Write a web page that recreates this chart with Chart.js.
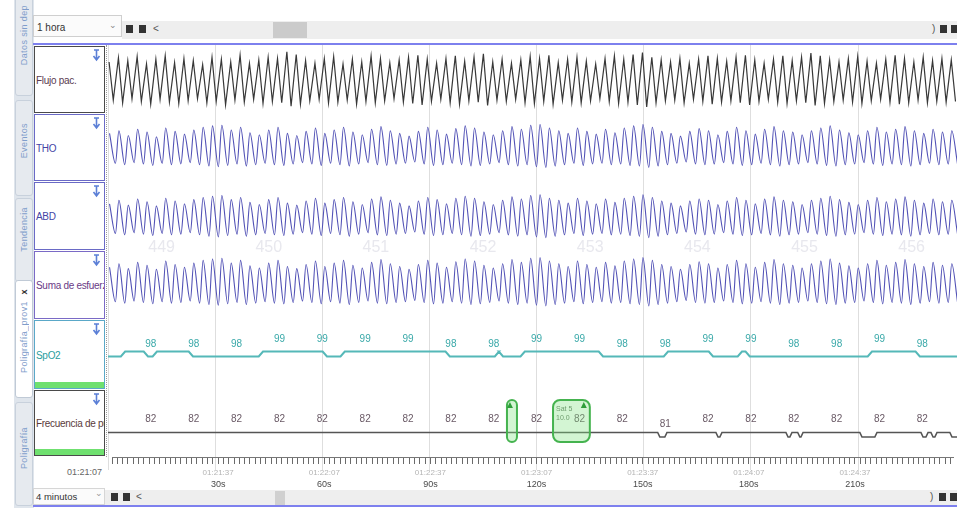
<!DOCTYPE html>
<html><head><meta charset="utf-8">
<script src="https://cdn.jsdelivr.net/npm/chart.js@4.4.1/dist/chart.umd.min.js"></script>
<style>
html,body{margin:0;padding:0;width:957px;height:508px;overflow:hidden;background:#fff;font-family:"Liberation Sans",Arial,sans-serif;}
.a{position:absolute;box-sizing:border-box;}
canvas{position:absolute;}
.tab{position:absolute;left:15px;width:18px;box-sizing:border-box;border:1px solid #c8d1dc;border-radius:3px;background:#e6eaef;}
.tab span{position:absolute;left:3px;writing-mode:vertical-rl;transform:rotate(180deg);font-size:9px;color:#7f9dcb;letter-spacing:0.4px;white-space:nowrap;}
.box{position:absolute;left:34px;width:71px;box-sizing:border-box;border:1.5px solid #6a6ac6;background:#fff;overflow:hidden;}
.box .t{position:absolute;left:1px;top:50%;transform:translateY(-50%);font-size:10px;white-space:nowrap;letter-spacing:-0.3px;}
.box svg{position:absolute;right:3px;top:2px;}
.box .g{position:absolute;left:0;right:0;bottom:0;height:6px;background:#6fe06f;}
.btn{position:absolute;width:7px;height:8px;background:#333;}
.sm{position:absolute;font-size:10px;color:#555;}
</style></head><body>

<!-- left vertical tabs -->
<div class="a" style="left:14px;top:0;width:20px;height:508px;background:#dfe5ec;"></div>
<div class="tab" style="top:-4px;height:100px;"><span style="top:8px;">Datos sin dep</span></div>
<div class="tab" style="top:100px;height:96px;"><span style="top:22px;">Eventos</span></div>
<div class="tab" style="top:198px;height:84px;"><span style="top:8px;">Tendencia</span></div>
<div class="tab" style="top:280px;height:118px;background:#fff;border-color:#c0cad6;"><span style="top:8px;color:#333;font-weight:bold;font-size:9px;">x</span><span style="top:20px;">Poligrafía_prov1</span></div>
<div class="tab" style="top:402px;height:104px;"><span style="top:24px;">Poligrafía</span></div>

<!-- top bar -->
<div class="a" style="left:122px;top:21px;width:835px;height:18px;background:#eeeeee;"></div>
<div class="a" style="left:33px;top:15px;width:89px;height:22px;border:1px solid #cfcfcf;background:#fbfbfb;"></div>
<div class="sm" style="left:37px;top:22px;color:#333;">1 hora</div>
<div class="sm" style="left:109px;top:20px;color:#888;font-size:9px;">⌄</div>
<div class="btn" style="left:126px;top:25px;"></div>
<div class="btn" style="left:139px;top:25px;"></div>
<div class="sm" style="left:153px;top:23px;">&lt;</div>
<div class="a" style="left:273px;top:22px;width:34px;height:16px;background:#cbcbcb;"></div>
<div class="sm" style="left:932px;top:23px;">)</div>
<div class="btn" style="left:940px;top:25px;"></div>
<div class="btn" style="left:951px;top:25px;"></div>
<div class="a" style="left:33px;top:43px;width:924px;height:2px;background:#7d80ee;"></div>

<!-- channel label boxes -->
<div class="box" style="top:46px;height:67px;border-color:#4a4a4a;"><div class="t" style="color:#5a3b50;">Flujo pac.</div><svg width="9" height="13"><path d="M2 1h5M4.5 1v9M1.5 7l3 4 3-4" stroke="#5b7fd6" stroke-width="1.6" fill="none"/></svg></div>
<div class="box" style="top:114px;height:67px;"><div class="t" style="color:#4545a5;">THO</div><svg width="9" height="13"><path d="M2 1h5M4.5 1v9M1.5 7l3 4 3-4" stroke="#5b7fd6" stroke-width="1.6" fill="none"/></svg></div>
<div class="box" style="top:182px;height:68px;"><div class="t" style="color:#4545a5;">ABD</div><svg width="9" height="13"><path d="M2 1h5M4.5 1v9M1.5 7l3 4 3-4" stroke="#5b7fd6" stroke-width="1.6" fill="none"/></svg></div>
<div class="box" style="top:251px;height:68px;border-color:#7a6ac6;"><div class="t" style="color:#6a3a86;">Suma de esfuerzos</div><svg width="9" height="13"><path d="M2 1h5M4.5 1v9M1.5 7l3 4 3-4" stroke="#5b7fd6" stroke-width="1.6" fill="none"/></svg></div>
<div class="box" style="top:320px;height:69px;border-color:#5aa8c8;"><div class="t" style="color:#2a9d9d;">SpO2</div><svg width="9" height="13"><path d="M2 1h5M4.5 1v9M1.5 7l3 4 3-4" stroke="#5b7fd6" stroke-width="1.6" fill="none"/></svg><div class="g"></div></div>
<div class="box" style="top:390px;height:66px;border-color:#4a4a4a;"><div class="t" style="color:#5b3b3b;">Frecuencia de pulso</div><svg width="9" height="13"><path d="M2 1h5M4.5 1v9M1.5 7l3 4 3-4" stroke="#5b7fd6" stroke-width="1.6" fill="none"/></svg><div class="g"></div></div>
<div class="a" style="left:106px;top:45px;width:0;height:412px;border-left:1px dotted #9a9a9a;"></div>
<div class="sm" style="left:60px;top:467px;width:42px;text-align:right;font-size:9px;color:#666;">01:21:07</div>

<!-- bottom bar -->
<div class="a" style="left:105px;top:490px;width:852px;height:15px;background:#eeeeee;"></div>
<div class="a" style="left:33px;top:488px;width:72px;height:17px;border:1px solid #d6d6d6;background:#fbfbfb;"></div>
<div class="sm" style="left:36px;top:491px;color:#333;font-size:9.5px;">4 minutos</div>
<div class="sm" style="left:95px;top:488px;color:#999;font-size:9px;">⌄</div>
<div class="btn" style="left:111px;top:493px;"></div>
<div class="btn" style="left:123px;top:493px;"></div>
<div class="sm" style="left:136px;top:491px;">&lt;</div>
<div class="a" style="left:275px;top:491px;width:10px;height:14px;background:#d0d0d0;"></div>
<div class="sm" style="left:930px;top:491px;">)</div>
<div class="btn" style="left:939px;top:493px;"></div>
<div class="btn" style="left:950px;top:493px;"></div>
<div class="a" style="left:33px;top:505px;width:924px;height:2px;background:#7d80ee;"></div>

<canvas id="cGrid" width="849" height="425" style="left:108px;top:45px;"></canvas>
<canvas id="cFlujo" width="849" height="68" style="left:108px;top:45px;"></canvas>
<canvas id="cTho" width="849" height="68" style="left:108px;top:113px;"></canvas>
<canvas id="cAbd" width="849" height="69" style="left:108px;top:181px;"></canvas>
<canvas id="cSuma" width="849" height="69" style="left:108px;top:250px;"></canvas>
<canvas id="cSpo2" width="849" height="71" style="left:108px;top:319px;"></canvas>
<canvas id="cFc" width="849" height="65" style="left:108px;top:390px;"></canvas>
<canvas id="cTime" width="849" height="35" style="left:108px;top:455px;"></canvas>

<script>
// ---------------- data ----------------
const XMAX = 237.7;            // visible seconds
const breathPeriod = 2.62;     // s per breath cycle
const breathStart = 0.3;

const fluPeaks = [50,62,54,66,44,58,68,48,60,54, 42,64,58,50,70,46,56,64,60,80, 72,54,46,60,66,44,58,50,68,60,
  48,56,64,70,58,46,60,68,52,64, 74,50,58,46,56,66,60,70,48,58, 64,52,44,60,68,58,72,78,64,56,
  50,60,46,58,68,60,52,64,70,56, 46,58,68,54,64,76,68,56,50,60, 66,52,46,58,70,60,50,64,54,60,56];
const fluTroughs = [-62,-70,-58,-66,-74,-60,-68,-72,-64,-58, -70,-66,-76,-62,-68,-60,-72,-66,-70,-80, -74,-64,-60,-70,-68,-62,-74,-66,-70,-64,
  -58,-68,-72,-76,-66,-60,-70,-74,-64,-68, -78,-62,-66,-60,-70,-72,-66,-74,-62,-68, -70,-64,-58,-66,-72,-68,-76,-82,-70,-64,
  -62,-70,-60,-66,-74,-68,-64,-70,-76,-66, -60,-68,-72,-64,-70,-78,-72,-66,-62,-68, -72,-64,-60,-68,-74,-70,-62,-70,-66,-68,-66];

const thoPeaks = [40,48,34,52,44,30,56,46,38,50, 58,62,64,50,58,42,36,50,58,40, 34,46,56,40,50,58,44,36,52,60,
  48,40,32,46,58,50,38,54,62,56, 44,36,48,60,52,64,66,56,48,40, 56,46,38,52,42,56,62,66,58,46,
  40,32,46,54,48,36,46,58,48,38, 52,60,48,44,36,48,56,62,50,42, 36,48,58,44,52,60,48,40,52,44,48];
const thoTroughs = [-48,-52,-46,-50,-54,-48,-52,-50,-46,-52, -56,-58,-54,-50,-56,-52,-48,-52,-54,-50, -46,-50,-54,-48,-52,-56,-50,-46,-52,-54,
  -50,-48,-44,-50,-54,-52,-48,-52,-56,-54, -50,-46,-52,-56,-52,-58,-60,-56,-52,-48, -54,-50,-48,-52,-50,-54,-56,-60,-56,-52,
  -48,-44,-50,-52,-50,-46,-50,-54,-52,-48, -52,-56,-52,-50,-46,-50,-54,-56,-52,-50, -46,-50,-54,-50,-52,-56,-52,-48,-52,-50,-52];

const abdPeaks = [34,44,30,48,40,28,50,42,34,46, 52,56,58,46,52,38,32,46,52,36, 30,42,50,36,46,52,40,32,48,54,
  44,36,28,42,52,46,34,50,56,50, 40,32,44,54,48,58,60,50,44,36, 50,42,34,48,38,50,56,60,52,42,
  36,28,42,48,44,32,42,52,44,34, 48,54,44,40,32,44,50,56,46,38, 32,44,52,40,48,54,44,36,48,40,44];
const abdTroughs = [-52,-56,-50,-54,-58,-52,-56,-54,-50,-56, -60,-62,-58,-54,-60,-56,-52,-56,-58,-54, -50,-54,-58,-52,-56,-60,-54,-50,-56,-58,
  -54,-52,-48,-54,-58,-56,-52,-56,-60,-58, -54,-50,-56,-60,-56,-62,-64,-60,-56,-52, -58,-54,-52,-56,-54,-58,-60,-64,-60,-56,
  -52,-48,-54,-56,-54,-50,-54,-58,-56,-52, -56,-60,-56,-54,-50,-54,-58,-60,-56,-54, -50,-54,-58,-54,-56,-60,-56,-52,-56,-54,-56];

const sumPeaks = [50,60,46,64,56,44,68,58,50,62, 70,74,76,62,70,54,48,62,70,52, 46,58,68,52,62,70,56,48,64,72,
  60,52,44,58,70,62,50,66,74,68, 56,48,60,72,64,76,78,68,60,52, 68,58,50,64,54,68,74,78,70,58,
  52,44,58,66,60,48,58,70,60,50, 64,72,60,56,48,60,68,74,62,54, 48,60,70,56,64,72,60,52,64,56,60];
const sumTroughs = [-50,-54,-48,-52,-56,-50,-54,-52,-48,-54, -58,-60,-56,-52,-58,-54,-50,-54,-56,-52, -48,-52,-56,-50,-54,-58,-52,-48,-54,-56,
  -52,-50,-46,-52,-56,-54,-50,-54,-58,-56, -52,-48,-54,-58,-54,-60,-62,-58,-54,-50, -56,-52,-50,-54,-52,-56,-58,-62,-58,-54,
  -50,-46,-52,-54,-52,-48,-52,-56,-54,-50, -54,-58,-54,-52,-48,-52,-56,-58,-54,-52, -48,-52,-56,-52,-54,-58,-54,-50,-54,-52,-54];

// SpO2 (%) change points
const spo2Times  = [0, 4.8, 11.2, 13.7, 23.8, 43.4, 61.3, 66.3, 95.7, 109.5, 110.6, 116.7, 138.6, 156.8, 169.4, 177.5, 179.7, 213.9, 227.3];
const spo2Values = [98, 99, 98, 99, 98, 99, 98, 99, 98, 99, 98, 99, 98, 99, 98, 99, 98, 99, 98];
const labelTimes = [12, 24, 36, 48, 60, 72, 84, 96, 108, 120, 132, 144, 156, 168, 180, 192, 204, 216, 228];
const spo2Labels = [98, 98, 98, 99, 99, 99, 99, 98, 98, 99, 99, 98, 98, 99, 99, 98, 98, 99, 98];

// pulse rate (lpm) change points
const fcTimes  = [0, 154.5, 156.5, 170.8, 171.9, 190.4, 191.5, 193.7, 194.6, 211.1, 215.3, 228.2, 229.6, 231.0, 232.1, 236.3];
const fcValues = [82, 81, 82, 81, 82, 81, 82, 81, 82, 81, 82, 81, 82, 81, 82, 81];
const fcLabels = [82, 82, 82, 82, 82, 82, 82, 82, 82, 82, 82, 82, 81, 82, 82, 82, 82, 82, 82];

// scored events
const eventStart = [111.7, 124.6];
const eventEnd   = [114.5, 134.9];
const eventText  = [[], ['Sat 5', '10.0']];

// axis labels
const gridStep = 30;
const clockLabels = ['01:21:37', '01:22:07', '01:22:37', '01:23:07', '01:23:37', '01:24:07', '01:24:37'];
const secLabels   = ['30s', '60s', '90s', '120s', '150s', '180s', '210s'];
const epochNumbers = [449, 450, 451, 452, 453, 454, 455, 456];

// ---------------- helpers ----------------
function wave(peaks, troughs, phP, phT) {
  const pts = [];
  const n = Math.min(peaks.length, troughs.length);
  for (let i = 0; i < n; i++) {
    const t = breathStart + i * breathPeriod;
    pts.push({x: t + phP * breathPeriod, y: peaks[i]});
    pts.push({x: t + phT * breathPeriod, y: troughs[i]});
  }
  return pts;
}
function steps(times, values, ramp) {
  const pts = [];
  for (let i = 0; i < times.length; i++) {
    if (i > 0) pts.push({x: times[i] - ramp, y: values[i - 1]});
    pts.push({x: times[i], y: values[i]});
  }
  pts.push({x: XMAX, y: values[values.length - 1]});
  return pts;
}
function opts(yMin, yMax) {
  return {
    responsive: false, animation: false, events: [],
    layout: {padding: 0, autoPadding: false},
    plugins: {legend: {display: false}, tooltip: {enabled: false}},
    scales: {
      x: {type: 'linear', min: 0, max: XMAX, display: false},
      y: {type: 'linear', min: yMin, max: yMax, display: false}
    }
  };
}
function lineChart(id, data, color, width, yMin, yMax, extra, plugins) {
  return new Chart(document.getElementById(id), {
    type: 'line',
    data: {datasets: [Object.assign({data, borderColor: color, borderWidth: width, pointRadius: 0, fill: false, tension: 0}, extra || {})]},
    options: opts(yMin, yMax),
    plugins: plugins || []
  });
}
function valueLabels(times, values, color, lift) {
  return {
    id: 'vl',
    afterDatasetsDraw(chart) {
      const {ctx, scales: {x, y}} = chart;
      ctx.save();
      ctx.font = '10px "Liberation Sans Narrow", "Liberation Sans", Arial';
      ctx.fillStyle = color;
      ctx.textAlign = 'center';
      ctx.textBaseline = 'middle';
      times.forEach((t, i) => ctx.fillText(String(values[i]), x.getPixelForValue(t), y.getPixelForValue(values[i]) - lift));
      ctx.restore();
    }
  };
}

// ---------------- background grid + epochs ----------------
new Chart(document.getElementById('cGrid'), {
  type: 'line',
  data: {datasets: []},
  options: {
    responsive: false, animation: false, events: [],
    layout: {padding: 0, autoPadding: false},
    plugins: {legend: {display: false}, tooltip: {enabled: false}},
    scales: {
      x: {type: 'linear', min: 0, max: XMAX, position: 'bottom', bounds: 'data',
          ticks: {display: false, stepSize: gridStep},
          grid: {drawTicks: false, lineWidth: 1, color: c => (c.tick && c.tick.value % gridStep === 0) ? '#dedede' : 'rgba(0,0,0,0)'},
          border: {display: false},
          afterFit: s => { s.height = 0; }},
      y: {display: false, min: 0, max: 1}
    }
  },
  plugins: [{
    id: 'epochs',
    afterDraw(chart) {
      const {ctx, scales: {x}} = chart;
      ctx.save();
      ctx.font = '16px "Liberation Sans", Arial';
      ctx.fillStyle = '#e8e8ee';
      ctx.textAlign = 'center';
      ctx.textBaseline = 'middle';
      epochNumbers.forEach((n, i) => ctx.fillText(String(n), x.getPixelForValue(gridStep * i + gridStep / 2), 203));
      ctx.restore();
    }
  }]
});

// ---------------- channels ----------------
lineChart('cFlujo', wave(fluPeaks, fluTroughs, 0, 0.45), '#383838', 1.2, -100, 100);
lineChart('cTho', wave(thoPeaks, thoTroughs, 0.05, 0.68), '#5252b6', 1.1, -100, 100, {cubicInterpolationMode: 'monotone'});
lineChart('cAbd', wave(abdPeaks, abdTroughs, 0.05, 0.68), '#5252b6', 1.1, -100, 100, {cubicInterpolationMode: 'monotone'});
lineChart('cSuma', wave(sumPeaks, sumTroughs, 0.05, 0.68), '#5252b6', 1.1, -100, 100, {cubicInterpolationMode: 'monotone'});

lineChart('cSpo2', steps(spo2Times, spo2Values, 1.2), '#55b8b8', 2, 91.3, 105.5, {},
  [valueLabels(labelTimes, spo2Labels, '#3aa9a9', 12)]);

lineChart('cFc', steps(fcTimes, fcValues, 0.6), '#555555', 1.6, 77, 91.44, {},
  [valueLabels(labelTimes, fcLabels, '#6a5a66', 13), {
    id: 'events',
    afterDatasetsDraw(chart) {
      const {ctx, scales: {x}, chartArea} = chart;
      ctx.save();
      eventStart.forEach((s, i) => {
        const x0 = x.getPixelForValue(s), x1 = x.getPixelForValue(eventEnd[i]);
        const y0 = chartArea.top + 10, y1 = chartArea.bottom - 13;
        ctx.beginPath();
        ctx.roundRect(x0, y0, x1 - x0, y1 - y0, Math.min(7, (x1 - x0) / 2));
        ctx.fillStyle = 'rgba(130,225,130,0.35)';
        ctx.fill();
        ctx.lineWidth = 2;
        ctx.strokeStyle = '#45b34f';
        ctx.stroke();
        const fx = eventText[i].length ? x1 - 9 : x0;
        ctx.beginPath();
        ctx.moveTo(fx, y0 + 8); ctx.lineTo(fx + 3, y0 + 2); ctx.lineTo(fx + 6, y0 + 8); ctx.closePath();
        ctx.fillStyle = '#2f9e3a';
        ctx.fill();
        ctx.font = '7px "Liberation Sans", Arial';
        ctx.fillStyle = '#6f9e6f';
        ctx.textAlign = 'left';
        ctx.textBaseline = 'middle';
        eventText[i].forEach((t, k) => ctx.fillText(t, x0 + 3, y0 + 9 + k * 9));
      });
      ctx.restore();
    }
  }]);

// ---------------- time axis ----------------
new Chart(document.getElementById('cTime'), {
  type: 'line',
  data: {datasets: []},
  options: {
    responsive: false, animation: false, events: [],
    layout: {padding: 0, autoPadding: false},
    plugins: {legend: {display: false}, tooltip: {enabled: false}},
    scales: {
      x: {type: 'linear', min: 0, max: XMAX, position: 'bottom', bounds: 'data', weight: 0,
          ticks: {stepSize: 1.5, autoSkip: false, maxRotation: 0, minRotation: 0, padding: 4,
                  color: '#b4b4b4', font: {size: 8, family: '"Liberation Sans", Arial'},
                  callback: v => (v > 0 && v % gridStep === 0) ? clockLabels[v / gridStep - 1] : ''},
          grid: {drawOnChartArea: false, tickLength: 7, tickWidth: 1,
                 tickColor: c => (c.tick && Math.abs(c.tick.value / 1.5 - Math.round(c.tick.value / 1.5)) < 1e-6) ? '#6a6a6a' : 'rgba(0,0,0,0)'},
          border: {display: true, color: '#777', width: 1},
          afterFit: s => { s.height = 21; }},
      x2: {type: 'linear', min: 0, max: XMAX, position: 'bottom', bounds: 'data', weight: 1,
           ticks: {stepSize: gridStep, autoSkip: false, maxRotation: 0, minRotation: 0, padding: 1,
                   color: '#4a4a4a', font: {size: 9, family: '"Liberation Sans", Arial'},
                   callback: v => (v > 0 && v % gridStep === 0) ? secLabels[v / gridStep - 1] : ''},
           grid: {display: false, drawTicks: false, tickLength: 0}, border: {display: false},
           afterFit: s => { s.height = 12; }},
      y: {display: false, min: 0, max: 1}
    }
  }
});
</script>
</body></html>
